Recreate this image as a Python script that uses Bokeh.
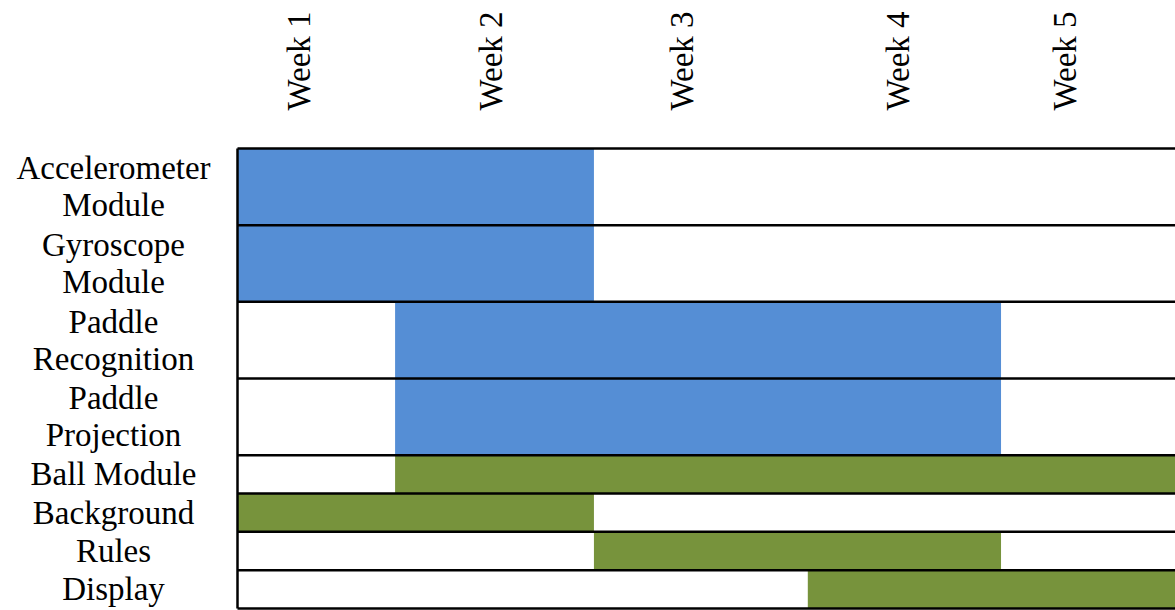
import math
from bokeh.plotting import figure
from bokeh.models import Range1d, ColumnDataSource
from bokeh.core.properties import value
from bokeh.embed import file_html
from bokeh.resources import INLINE

# ---------------- data ----------------
tasks = ["Accelerometer Module", "Gyroscope Module", "Paddle Recognition",
         "Paddle Projection", "Ball Module", "Background", "Rules", "Display"]
task_lines = [["Accelerometer", "Module"], ["Gyroscope", "Module"],
              ["Paddle", "Recognition"], ["Paddle", "Projection"],
              ["Ball Module"], ["Background"], ["Rules"], ["Display"]]
start_week = [0.0, 0.0, 0.84, 0.84, 0.84, 0.0, 1.9, 3.04]
end_week = [1.9, 1.9, 4.07, 4.07, 5.0, 1.9, 4.07, 5.0]
group = ["blue", "blue", "blue", "blue", "green", "green", "green", "green"]
week_labels = ["Week 1", "Week 2", "Week 3", "Week 4", "Week 5"]
week_label_pos = [0.33, 1.35, 2.37, 3.52, 4.41]

# ---------------- layout ----------------
row_units = [2, 2, 2, 2, 1, 1, 1, 1]
W, H = 1175, 610
TABLE_LEFT, TABLE_TOP, TABLE_BOTTOM = 237, 148, 608
PX_PER_WEEK = (W - TABLE_LEFT) / 5.0
TOTAL_UNITS = sum(row_units)
PX_PER_UNIT = (TABLE_BOTTOM - TABLE_TOP) / TOTAL_UNITS
XS = -TABLE_LEFT / PX_PER_WEEK
XE = XS + W / PX_PER_WEEK
YE = TOTAL_UNITS + TABLE_TOP / PX_PER_UNIT
YS = -(H - TABLE_BOTTOM) / PX_PER_UNIT

COLORS = {"blue": "#558ED5", "green": "#77933C"}
FONT = "Liberation Serif"
FS = "33px"

tops, bottoms = [], []
cur = TOTAL_UNITS
for u in row_units:
    tops.append(cur)
    bottoms.append(cur - u)
    cur -= u

p = figure(width=W, height=H, x_range=Range1d(XS, XE), y_range=Range1d(YS, YE),
           output_backend="svg", toolbar_location=None,
           x_axis_type=None, y_axis_type=None, min_border=0)
p.outline_line_color = None
p.background_fill_color = "white"
p.border_fill_color = "white"

bars = ColumnDataSource(dict(left=start_week, right=end_week, top=tops, bottom=bottoms,
                             color=[COLORS[g] for g in group], task=tasks))
p.quad(left="left", right="right", top="top", bottom="bottom", fill_color="color",
       line_color=None, source=bars)

# table lines
bounds = [TOTAL_UNITS] + bottoms
p.segment(x0=[0] * len(bounds), x1=[XE] * len(bounds), y0=bounds, y1=bounds,
          line_color="black", line_width=2.5)
p.segment(x0=[0], x1=[0], y0=[0], y1=[TOTAL_UNITS], line_color="black", line_width=2.5)

# row labels
LABEL_X = (113 - TABLE_LEFT) / PX_PER_WEEK
LINE_GAP = 18.5 / PX_PER_UNIT
lx, ly, lt = [], [], []
for lines, t, b in zip(task_lines, tops, bottoms):
    c = (t + b) / 2
    n = len(lines)
    for i, s in enumerate(lines):
        lx.append(LABEL_X)
        ly.append(c + (n - 1) * LINE_GAP - 2 * i * LINE_GAP)
        lt.append(s)
p.text(x=lx, y=ly, text=lt, text_font=value(FONT), text_font_size=FS,
       text_align="center", text_baseline="middle", text_color="black")

# week labels (rotated)
WEEK_Y = TOTAL_UNITS + (TABLE_TOP - 110) / PX_PER_UNIT
p.text(x=week_label_pos, y=[WEEK_Y] * len(week_labels), text=week_labels,
       angle=math.pi / 2, text_font=value(FONT), text_font_size=FS,
       text_align="left", text_baseline="middle", text_color="black")

open("out.html", "w").write(file_html(p, INLINE))
